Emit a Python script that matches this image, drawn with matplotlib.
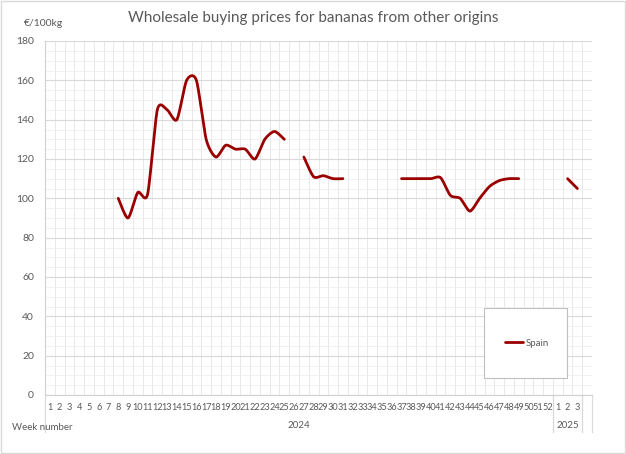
import numpy as np
import matplotlib.pyplot as plt
from matplotlib.patches import Rectangle
import matplotlib.transforms as mtransforms

# week labels on the category axis: 52 weeks of 2024, then 2025 weeks + one blank slot
week_labels = [str(w) for w in range(1, 53)] + ['1', '2', '3', '']
year_groups = [('2024', 0, 52), ('2025', 52, 55), ('', 55, 56)]

# Spain, EUR/100kg, None = no quotation
spain = [None] * 7 + [100, 90, 103, 102, 145, 145, 140, 160, 160, 130, 121, 127, 125, 125,
         120, 130, 134, 130, None, 121, 111, 111.5, 110, 110, None, None, None, None, None,
         110, 110, 110, 110, 110.5, 101.5, 100, 93.5, 100, 106, 109, 110, 110,
         None, None, None, None, 110, 105, None]

line_color = '#9B0000'
text_color = '#595959'


def smooth(xs, ys, n=20, k=0.75):
    # cubic Hermite curve through the points (Catmull-Rom tangents scaled by k),
    # close to Excel's "smoothed line"
    px = [xs[0]] + list(xs) + [xs[-1]]
    py = [ys[0]] + list(ys) + [ys[-1]]
    outx, outy = [], []
    t = np.linspace(0, 1, n)
    h00 = 2 * t ** 3 - 3 * t ** 2 + 1
    h10 = t ** 3 - 2 * t ** 2 + t
    h01 = -2 * t ** 3 + 3 * t ** 2
    h11 = t ** 3 - t ** 2
    for i in range(1, len(px) - 2):
        for p, out in ((px, outx), (py, outy)):
            m1 = k * (p[i + 1] - p[i - 1]) / 2
            m2 = k * (p[i + 2] - p[i]) / 2
            out.extend(h00 * p[i] + h10 * m1 + h01 * p[i + 1] + h11 * m2)
    return outx, outy


fig = plt.figure(figsize=(6.26, 4.54), dpi=100)
plt.rcParams['font.family'] = ['Lato', 'DejaVu Sans']
ax = fig.add_axes([45 / 626, 59 / 454, 547 / 626, 354 / 454])

x = np.arange(1, len(week_labels) + 1)

# split the series into runs of consecutive values
runs, cur = [], []
for xi, v in zip(x, spain):
    if v is None:
        if cur:
            runs.append(cur)
        cur = []
    else:
        cur.append((xi, v))
if cur:
    runs.append(cur)

first = True
for r in runs:
    sx, sy = smooth([p[0] for p in r], [p[1] for p in r])
    ax.plot(sx, sy, color=line_color, lw=2, solid_capstyle='round',
            label='Spain' if first else None, zorder=3)
    first = False

ax.set_xlim(0.5, len(x) + 0.5)
ax.set_ylim(0, 180)
ax.set_yticks(range(0, 181, 20))
ax.set_yticks(range(0, 181, 5), minor=True)
ax.set_xticks(x)
ax.set_xticklabels(week_labels, fontsize=6.6, color=text_color)
ax.set_xticks(np.arange(0.5, len(x) + 1), minor=True)
ax.tick_params(axis='x', which='both', length=0, pad=6)
ax.tick_params(axis='y', which='both', length=0, labelsize=7.5, labelcolor=text_color, pad=8)

ax.grid(which='major', axis='y', color='#d9d9d9', lw=0.8)
ax.grid(which='minor', axis='y', color='#efefef', lw=0.6)
ax.grid(which='minor', axis='x', color='#e4e4e4', lw=0.6)
ax.set_axisbelow(True)
for s in ['top', 'right']:
    ax.spines[s].set_visible(False)
ax.spines['left'].set_color('#d0d0d0')
ax.spines['bottom'].set_color('#d0d0d0')

# year group row under the week numbers
trans = mtransforms.blended_transform_factory(ax.transData, ax.transAxes)
for name, a, b in year_groups:
    for edge in (a + 0.5, b + 0.5):
        ax.plot([edge, edge], [0, -0.105], transform=trans, color='#d9d9d9', lw=0.8, clip_on=False)
    if name:
        ax.text((a + b) / 2 + 0.5, -0.085, name, transform=trans, ha='center', va='center',
                fontsize=7, color=text_color)

fig.text(12 / 626, 1 - 428 / 454, 'Week number', fontsize=7, color=text_color, va='center')
fig.text(24 / 626, 1 - 24 / 454, '€/100kg', fontsize=7.5, color=text_color, va='center')
fig.text(0.5, 1 - 18 / 454, 'Wholesale buying prices for bananas from other origins',
         ha='center', va='center', fontsize=11, color=text_color)

# legend: white box drawn by hand, entry centred inside it
ax.add_patch(Rectangle((484 / 626, 1 - 378 / 454), 83 / 626, 70 / 454,
                       transform=fig.transFigure, facecolor='white', clip_on=False,
                       edgecolor='#bfbfbf', lw=0.8, zorder=5))
leg = ax.legend(loc='center', bbox_to_anchor=(527 / 626, 1 - 343 / 454),
                bbox_transform=fig.transFigure, frameon=False,
                fontsize=7, handlelength=1.9, handletextpad=0.3, borderaxespad=0)
leg.set_zorder(6)
for t in leg.get_texts():
    t.set_color(text_color)

# outer chart border
fig.patches.append(Rectangle((0.002, 0.002), 0.996, 0.996, transform=fig.transFigure,
                             fill=False, edgecolor='#d9d9d9', lw=1))

fig.savefig('out.png', dpi=100)
